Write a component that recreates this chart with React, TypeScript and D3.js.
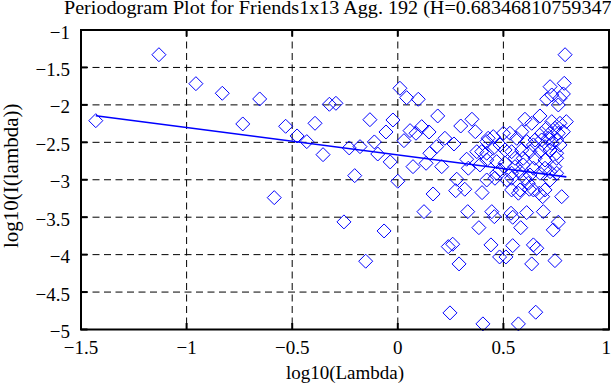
import * as React from "react";
import * as d3 from "d3";

// log10 of the frequency and of the periodogram value
const lambdaLog = [
  -1.43, -1.131, -0.956, -0.831, -0.734, -0.654, -0.585, -0.531, -0.477, -0.431,
  -0.392, -0.354, -0.324, -0.293, -0.255, -0.23, -0.204, -0.179, -0.152, -0.132,
  -0.111, -0.095, -0.065, -0.056, -0.036, -0.023, 0.0, 0.01, 0.029, 0.042,
  0.058, 0.086, 0.097, 0.113, 0.124, 0.072, 0.134, 0.148, 0.152, 0.167,
  0.184, 0.189, 0.208, 0.223, 0.239, 0.26, 0.247, 0.266, 0.274, 0.279,
  0.29, 0.298, 0.317, 0.326, 0.331, 0.334, 0.351, 0.367, 0.374, 0.384,
  0.399, 0.403, 0.428, 0.441, 0.445, 0.457, 0.468, 0.482, 0.512, 0.5,
  0.516, 0.536, 0.544, 0.544, 0.571, 0.571, 0.582, 0.602, 0.61, 0.623,
  0.634, 0.642, 0.653, 0.658, 0.67, 0.673, 0.686, 0.689, 0.705, 0.721,
  0.721, 0.736, 0.744, 0.76, 0.76, 0.768, 0.776, 0.784, 0.788, 0.792,
  0.729,
  0.634, 0.729, 0.768, 0.798, 0.705, 0.744, 0.681, 0.721, 0.76, 0.784,
  0.452, 0.421, 0.531, 0.587, 0.65, 0.681, 0.713, 0.752, 0.642, 0.697,
  0.729, 0.768, 0.563, 0.61, 0.484, 0.508, 0.539, 0.452, 0.421, 0.397,
  0.587, 0.626, 0.673, 0.721, 0.752, 0.555, 0.594, 0.65, 0.697, 0.752,
  0.421, 0.468, 0.508, 0.389, 0.555, 0.594, 0.642, 0.697, 0.744, 0.484,
  0.539, 0.579, 0.626, 0.673, 0.721, 0.421, 0.46, 0.539, 0.602, 0.618,
  0.752, 0.642, 0.697, 0.579, 0.539,
];

const periodLog = [
  -2.211, -1.33, -1.717, -1.845, -2.255, -1.921, -3.239, -2.286, -2.415, -2.491,
  -2.246, -2.665, -1.992, -1.979, -3.563, -2.575, -2.945, -2.558, -4.088, -2.198,
  -2.495, -2.656, -3.684, -2.362, -2.762, -2.202, -3.02, -1.778, -2.478, -1.904,
  -2.344, -2.379, -1.925, -2.291, -3.426, -2.825, -2.78, -2.362, -2.646, -3.19,
  -2.558, -2.148, -2.825, -2.446, -3.893, -3.861, -4.778, -2.522, -3.146, -2.993,
  -4.124, -2.282, -3.127, -2.726, -3.426, -2.846, -2.192, -2.358, -2.625, -3.64,
  -3.172, -4.925, -2.446, -3.87, -3.426, -3.493, -2.913, -4.031, -4.031, -2.379,
  -3.003, -3.447, -3.501, -3.88, -3.18, -4.925, -3.64, -2.192, -3.439, -3.127,
  -4.124, -3.87, -4.769, -3.915, -3.18, -2.148, -3.226, -3.426, -1.925, -1.757,
  -3.003, -3.67, -4.08, -2.001, -3.567, -1.912, -3.226, -1.854, -1.712, -1.33,
  -1.868,
  -2.246, -2.224, -2.246, -2.224, -2.312, -2.312, -2.379, -2.379, -2.379, -2.358,
  -2.424, -2.491, -2.379, -2.358, -2.469, -2.469, -2.446, -2.469, -2.535, -2.558,
  -2.513, -2.535, -2.446, -2.491, -2.535, -2.602, -2.625, -2.579, -2.646, -2.625,
  -2.602, -2.625, -2.625, -2.602, -2.646, -2.713, -2.713, -2.713, -2.736, -2.713,
  -2.736, -2.758, -2.78, -2.802, -2.825, -2.802, -2.846, -2.846, -2.825, -2.869,
  -2.913, -2.892, -2.936, -2.913, -2.892, -3.003, -2.98, -2.98, -2.98, -3.047,
  -2.913, -3.136, -3.136, -3.136, -3.136,
];

const xTicks = [-1.5, -1, -0.5, 0, 0.5, 1];
const yTicks = [-5, -4.5, -4, -3.5, -3, -2.5, -2, -1.5, -1];

// least squares fit, slope = 1 - 2H
const fitSlope = -0.3669;
const fitIntercept = -2.669;

// the reference title runs off the right edge; only its visible part is kept
const TITLE = "Periodogram Plot for Friends1x13 Agg. 192 (H=0.68346810759347";
const FONT = "'Liberation Serif', 'Times New Roman', serif";

export default function App() {
  const svgRef = React.useRef<SVGSVGElement>(null);
  const [width, height] = [611, 385];

  React.useEffect(() => {
    const svg = d3.select(svgRef.current);
    svg.selectAll("*").remove();

    const x = d3.scaleLinear().domain([-1.5, 1]).range([81, 609]);
    const y = d3.scaleLinear().domain([-5, -1]).range([329.5, 30]);
    const [x0, x1] = x.range();
    const [y0, y1] = y.range();
    const fmt = d3.format("");

    svg.append("rect").attr("width", width).attr("height", height).attr("fill", "#fff");

    // dashed grid
    svg
      .selectAll(".vgrid")
      .data(xTicks.slice(1, -1))
      .join("line")
      .attr("x1", (d) => x(d))
      .attr("x2", (d) => x(d))
      .attr("y1", y1)
      .attr("y2", y0)
      .attr("stroke", "#000")
      .attr("stroke-dasharray", "7,4.5");
    svg
      .selectAll(".hgrid")
      .data(yTicks.slice(1, -1))
      .join("line")
      .attr("x1", x0)
      .attr("x2", x1)
      .attr("y1", (d) => y(d))
      .attr("y2", (d) => y(d))
      .attr("stroke", "#000")
      .attr("stroke-dasharray", "7,4.5");

    // diamonds
    const pts = lambdaLog.map((v, i) => [v, periodLog[i]]);
    const r = 7;
    svg
      .selectAll(".pt")
      .data(pts)
      .join("path")
      .attr("d", (d) => {
        const cx = x(d[0]);
        const cy = y(d[1]);
        return `M${cx},${cy - r}L${cx + r},${cy}L${cx},${cy + r}L${cx - r},${cy}Z`;
      })
      .attr("fill", "none")
      .attr("stroke", "#0000ff")
      .attr("stroke-width", 1);

    // fitted line
    const [lo, hi] = d3.extent(lambdaLog) as [number, number];
    svg
      .append("path")
      .attr("d", d3.line<number>().x((d) => x(d)).y((d) => y(fitIntercept + fitSlope * d))([lo, hi]))
      .attr("stroke", "#0000ff")
      .attr("stroke-width", 1.6)
      .attr("fill", "none");

    // box and inner ticks
    svg
      .append("rect")
      .attr("x", x0)
      .attr("y", y1)
      .attr("width", x1 - x0)
      .attr("height", y0 - y1)
      .attr("fill", "none")
      .attr("stroke", "#000")
      .attr("stroke-width", 2);
    const tl = 6.5;
    xTicks.forEach((t) => {
      svg.append("line").attr("x1", x(t)).attr("x2", x(t)).attr("y1", y0).attr("y2", y0 - tl).attr("stroke", "#000").attr("stroke-width", 2);
      svg.append("line").attr("x1", x(t)).attr("x2", x(t)).attr("y1", y1).attr("y2", y1 + tl).attr("stroke", "#000").attr("stroke-width", 2);
    });
    yTicks.forEach((t) => {
      svg.append("line").attr("x1", x0).attr("x2", x0 + tl).attr("y1", y(t)).attr("y2", y(t)).attr("stroke", "#000").attr("stroke-width", 2);
      svg.append("line").attr("x1", x1).attr("x2", x1 - tl).attr("y1", y(t)).attr("y2", y(t)).attr("stroke", "#000").attr("stroke-width", 2);
    });

    // tick labels
    svg
      .selectAll(".xl")
      .data(xTicks)
      .join("text")
      .attr("x", (d, i) => (i === xTicks.length - 1 ? width : x(d)))
      .attr("y", y0 + 24.5)
      .attr("text-anchor", (d, i) => (i === xTicks.length - 1 ? "end" : "middle"))
      .attr("font-family", FONT)
      .attr("font-size", 19)
      .text((d) => fmt(d));
    svg
      .selectAll(".yl")
      .data(yTicks)
      .join("text")
      .attr("x", 70)
      .attr("y", (d) => y(d) + 8.5)
      .attr("text-anchor", "end")
      .attr("font-family", FONT)
      .attr("font-size", 19)
      .text((d) => fmt(d));

    // axis labels and title
    svg
      .append("text")
      .attr("x", (x0 + x1) / 2)
      .attr("y", 379)
      .attr("text-anchor", "middle")
      .attr("font-family", FONT)
      .attr("font-size", 19)
      .text("log10(Lambda)");
    svg
      .append("text")
      .attr("transform", `translate(17.5,${(y0 + y1) / 2 - 4}) rotate(-90)`)
      .attr("text-anchor", "middle")
      .attr("font-family", FONT)
      .attr("font-size", 21)
      .text("log10(I(lambda))");
    svg
      .append("text")
      .attr("transform", "translate(64,14) scale(1.118,1)")
      .attr("font-family", FONT)
      .attr("font-size", 18)
      .text(TITLE);
  }, []);

  return (
    <svg
      ref={svgRef}
      width={width}
      height={height}
      style={{ position: "absolute", left: 0, top: 0 }}
    ></svg>
  );
}
